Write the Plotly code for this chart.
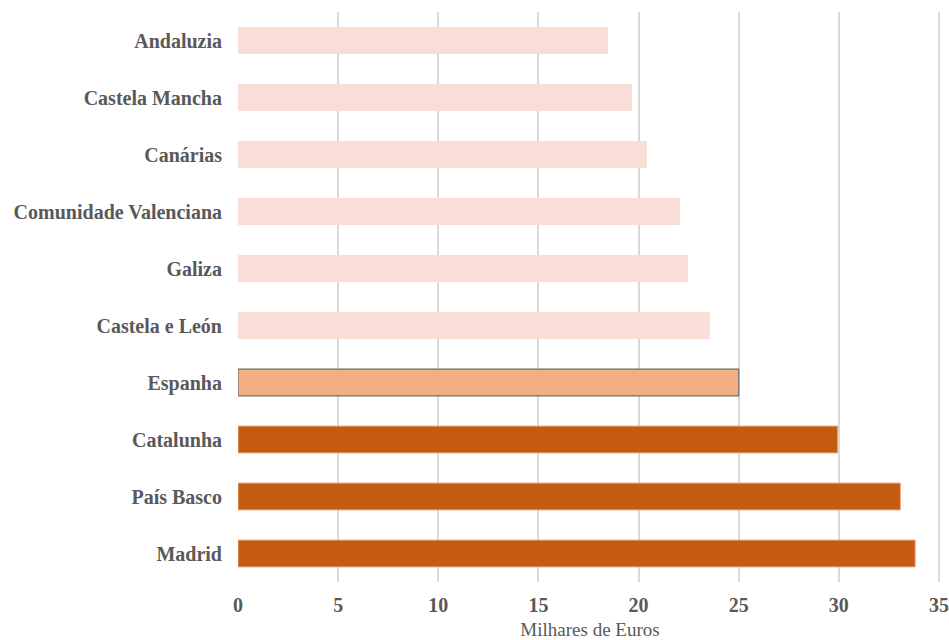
import plotly.graph_objects as go

# Regional values, in thousands of euros
regions = ["Andaluzia", "Castela Mancha", "Canárias", "Comunidade Valenciana",
           "Galiza", "Castela e León", "Espanha", "Catalunha", "País Basco", "Madrid"]
values = [18.47, 19.67, 20.42, 22.07, 22.47, 23.56, 25.0, 29.94, 33.07, 33.81]
x_ticks = [0, 5, 10, 15, 20, 25, 30, 35]

LIGHT = "#F8DED6"
MID = "#F4AE84"
DARK = "#C55A11"

colors = []
line_colors = []
line_widths = []
for r, v in zip(regions, values):
    if r == "Espanha":
        colors.append(MID)
        line_colors.append("#6f6f6f")
        line_widths.append(1.2)
    elif v > 25:
        colors.append(DARK)
        line_colors.append("#E8A77A")
        line_widths.append(1)
    else:
        colors.append(LIGHT)
        line_colors.append(LIGHT)
        line_widths.append(0)

fig = go.Figure(go.Bar(
    x=values,
    y=regions,
    orientation="h",
    marker=dict(color=colors, line=dict(color=line_colors, width=line_widths)),
    hoverinfo="x+y",
))

font_family = "Liberation Serif, Times New Roman, serif"

fig.update_layout(
    width=949,
    height=640,
    margin=dict(l=238, r=7, t=12, b=58),
    plot_bgcolor="white",
    paper_bgcolor="white",
    bargap=0.53,
    showlegend=False,
    font=dict(family=font_family, color="#595959"),
    xaxis=dict(
        range=[0, 35.15],
        automargin=False,
        tickvals=x_ticks,
        ticktext=[f"<b>{t}</b>" for t in x_ticks],
        tickfont=dict(size=20, family=font_family, color="#595959"),
        ticklabelstandoff=9,
        ticklabeloverflow="allow",
        showgrid=True,
        gridcolor="#D9D9D9",
        gridwidth=1.5,
        zeroline=False,
        showline=False,
        ticks="",
        title=dict(text="Milhares de Euros", font=dict(size=19, family=font_family, color="#595959"),
                   standoff=8),
    ),
    yaxis=dict(
        autorange="reversed",
        automargin=False,
        tickvals=regions,
        ticktext=[f"<b>{r}</b>" for r in regions],
        tickfont=dict(size=20, family=font_family, color="#595959"),
        showgrid=False,
        zeroline=False,
        showline=False,
        ticks="",
        ticklabelstandoff=15,
    ),
)

fig.write_html("out.html")
